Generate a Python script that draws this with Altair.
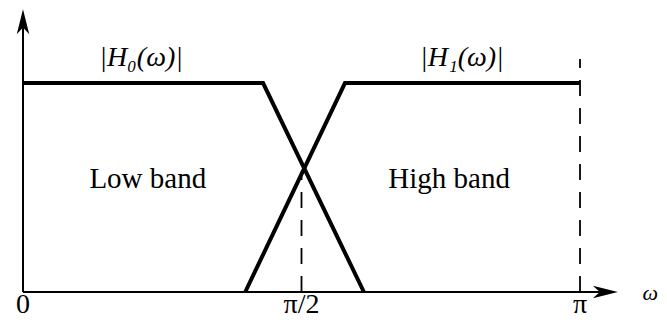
import altair as alt
import pandas as pd

# ---- data (ω in units of π, magnitude normalised to 1) ----
h0_omega = [0.0, 0.431, 0.612]
h0_mag = [1.0, 1.0, 0.0]
h1_omega = [0.399, 0.578, 1.0]
h1_mag = [0.0, 1.0, 1.0]

tick_values = [0.0, 0.5, 1.0]
tick_labels = ["0", "π/2", "π"]

curve_labels = ["|H₀(ω)|", "|H₁(ω)|"]
curve_label_omega = [0.212, 0.788]
curve_label_mag = [1.12, 1.12]

band_labels = ["Low band", "High band"]
band_label_omega = [0.224, 0.765]
band_label_mag = [0.541, 0.541]

guide_omega = [0.5, 1.0]
guide_top = [0.578, 1.115]

x_arrow_tip = 1.068
y_arrow_tip = 1.353

# ---- layout helpers ----
X_DOMAIN = [0, 1.14]
Y_DOMAIN = [0, 1.35]
W, H = 635, 282
px_x = W / (X_DOMAIN[1] - X_DOMAIN[0])
px_y = H / (Y_DOMAIN[1] - Y_DOMAIN[0])
ARROW_HALF = 12.5

xs = alt.Scale(domain=X_DOMAIN, nice=False, zero=False)
ys = alt.Scale(domain=Y_DOMAIN, nice=False, zero=False)
FONT = "Liberation Serif"

curves = pd.DataFrame({
    "w": h0_omega + h1_omega,
    "m": h0_mag + h1_mag,
    "s": ["H0"] * len(h0_omega) + ["H1"] * len(h1_omega),
    "o": list(range(len(h0_omega))) + list(range(len(h1_omega))),
})

lines = alt.Chart(curves).mark_line(
    color="black", strokeWidth=4, strokeJoin="miter", strokeCap="butt"
).encode(
    x=alt.X("w:Q", scale=xs, axis=None),
    y=alt.Y("m:Q", scale=ys, axis=None),
    detail="s:N",
    order="o:Q",
)

guides = pd.DataFrame({"w": guide_omega, "m": [0.0] * len(guide_omega), "m2": guide_top})
guide_rules = alt.Chart(guides).mark_rule(
    color="black", strokeWidth=1.8, strokeDash=[16, 12]
).encode(
    x=alt.X("w:Q", scale=xs, axis=None),
    y=alt.Y("m:Q", scale=ys, axis=None),
    y2="m2:Q",
)

x_center = x_arrow_tip - ARROW_HALF / px_x
y_center = y_arrow_tip - ARROW_HALF / px_y

x_axis = alt.Chart(pd.DataFrame({"w": [0.0], "w2": [x_center], "m": [0.0]})).mark_rule(
    color="black", strokeWidth=2
).encode(
    x=alt.X("w:Q", scale=xs, axis=None),
    x2="w2:Q",
    y=alt.Y("m:Q", scale=ys, axis=None),
)
y_axis = alt.Chart(pd.DataFrame({"w": [0.0], "m": [0.0], "m2": [y_center]})).mark_rule(
    color="black", strokeWidth=2
).encode(
    x=alt.X("w:Q", scale=xs, axis=None),
    y=alt.Y("m:Q", scale=ys, axis=None),
    y2="m2:Q",
)

arrow_right = "M1,0 L-1,-0.5 L-0.45,0 L-1,0.5 Z"
arrow_up = "M0,-1 L-0.5,1 L0,0.45 L0.5,1 Z"

x_head = alt.Chart(pd.DataFrame({"w": [x_center], "m": [0.0]})).mark_point(
    shape=arrow_right, size=(2 * ARROW_HALF) ** 2, filled=True, color="black", opacity=1, strokeWidth=0
).encode(
    x=alt.X("w:Q", scale=xs, axis=None),
    y=alt.Y("m:Q", scale=ys, axis=None),
)
y_head = alt.Chart(pd.DataFrame({"w": [0.0], "m": [y_center]})).mark_point(
    shape=arrow_up, size=(2 * ARROW_HALF) ** 2, filled=True, color="black", opacity=1, strokeWidth=0
).encode(
    x=alt.X("w:Q", scale=xs, axis=None),
    y=alt.Y("m:Q", scale=ys, axis=None),
)

tick_y = -21.0 / px_y
ticks = alt.Chart(pd.DataFrame({
    "w": tick_values, "m": [tick_y] * len(tick_values), "t": tick_labels
})).mark_text(
    font=FONT, fontSize=28, baseline="alphabetic", align="center", color="black"
).encode(
    x=alt.X("w:Q", scale=xs, axis=None),
    y=alt.Y("m:Q", scale=ys, axis=None),
    text="t:N",
)

omega_label = alt.Chart(pd.DataFrame({"w": [1.126], "m": [-0.005], "t": ["ω"]})).mark_text(
    font=FONT, fontSize=22, fontStyle="italic", baseline="middle", align="center", color="black"
).encode(
    x=alt.X("w:Q", scale=xs, axis=None),
    y=alt.Y("m:Q", scale=ys, axis=None),
    text="t:N",
)

curve_text = alt.Chart(pd.DataFrame({
    "w": curve_label_omega, "m": curve_label_mag, "t": curve_labels
})).mark_text(
    font=FONT, fontSize=28, fontStyle="italic", baseline="middle", align="center", color="black"
).encode(
    x=alt.X("w:Q", scale=xs, axis=None),
    y=alt.Y("m:Q", scale=ys, axis=None),
    text="t:N",
)

band_text = alt.Chart(pd.DataFrame({
    "w": band_label_omega, "m": band_label_mag, "t": band_labels
})).mark_text(
    font=FONT, fontSize=29, baseline="middle", align="center", color="black"
).encode(
    x=alt.X("w:Q", scale=xs, axis=None),
    y=alt.Y("m:Q", scale=ys, axis=None),
    text="t:N",
)

chart = alt.layer(
    guide_rules, x_axis, y_axis, lines, x_head, y_head,
    ticks, omega_label, curve_text, band_text,
).properties(
    width=W, height=H,
    padding={"left": 15, "top": 2, "right": 1, "bottom": 28},
    autosize=alt.AutoSizeParams(type="none"),
    background="white",
).configure_view(stroke=None)

chart.save("out.html", embed_options={"renderer": "svg", "actions": False})
